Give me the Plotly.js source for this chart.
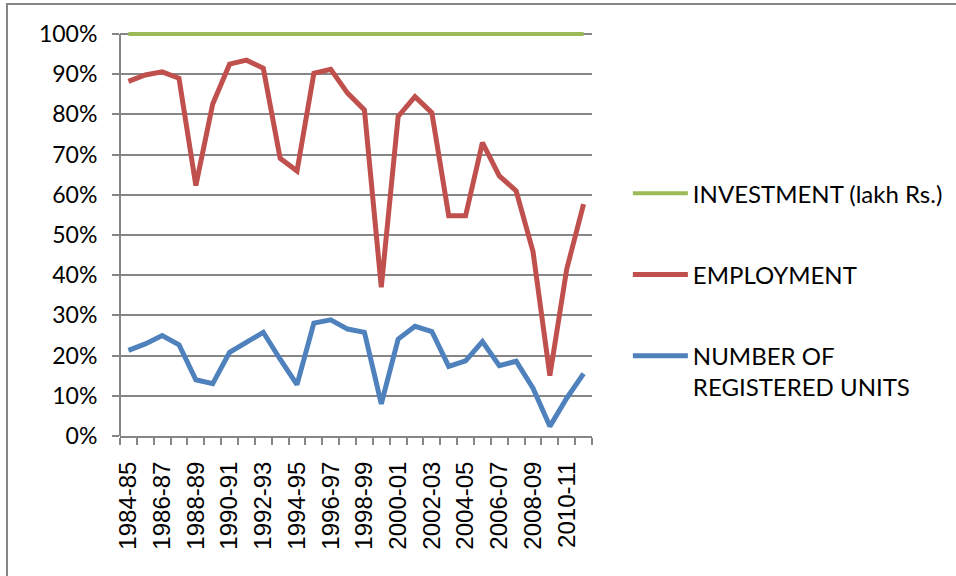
<!DOCTYPE html>
<html>
<head>
<meta charset="utf-8">
<script src="https://cdn.plot.ly/plotly-3.0.1.min.js"></script>
<style>
html,body{margin:0;padding:0;background:#fff;}
#chart{width:956px;height:576px;}
</style>
</head>
<body>
<div id="chart"></div>
<script>
const years = ["1984-85","1985-86","1986-87","1987-88","1988-89","1989-90","1990-91","1991-92",
  "1992-93","1993-94","1994-95","1995-96","1996-97","1997-98","1998-99","1999-00","2000-01",
  "2001-02","2002-03","2003-04","2004-05","2005-06","2006-07","2007-08","2008-09","2009-10",
  "2010-11","2011-12"];
const investment = [1,1,1,1,1,1,1,1,1,1,1,1,1,1,1,1,1,1,1,1,1,1,1,1,1,1,1,1];
const employment = [0.882,0.898,0.906,0.890,0.623,0.826,0.925,0.935,0.915,0.691,0.659,0.902,
  0.912,0.853,0.811,0.370,0.795,0.844,0.804,0.548,0.548,0.730,0.647,0.610,0.459,0.150,0.415,0.577];
const units = [0.213,0.229,0.250,0.227,0.140,0.130,0.208,0.234,0.258,0.191,0.128,0.281,0.289,
  0.266,0.258,0.080,0.241,0.273,0.260,0.173,0.187,0.235,0.175,0.186,0.119,0.024,0.094,0.155];
const yTicks = [0,0.1,0.2,0.3,0.4,0.5,0.6,0.7,0.8,0.9,1.0];
const yTickText = ["0%","10%","20%","30%","40%","50%","60%","70%","80%","90%","100%"];
const xTickText = years.map((y,i)=> i%2===0 ? y : "");

const traces = [
  {x: years, y: investment, name: "INVESTMENT (lakh Rs.)", type: "scatter", mode: "lines",
   line: {color: "#9BBB59", width: 4}, legendgroup: "a", cliponaxis: false},
  {x: years, y: employment, name: "EMPLOYMENT", type: "scatter", mode: "lines",
   line: {color: "#C0504D", width: 5}, legendgroup: "b", cliponaxis: false},
  {x: years, y: units, name: "NUMBER OF<br>REGISTERED UNITS", type: "scatter", mode: "lines",
   line: {color: "#4F81BD", width: 5}, legendgroup: "c", cliponaxis: false}
];

const layout = {
  width: 956, height: 576,
  margin: {l: 120, r: 364, t: 28, b: 140, autoexpand: false},
  paper_bgcolor: "#fff", plot_bgcolor: "#fff",
  showlegend: true,
  legend: {x: 1.076, xanchor: "left", y: 0.649, yanchor: "top", traceorder: "grouped",
    tracegroupgap: 47, valign: "top", itemwidth: 55,
    font: {family: "Lato, sans-serif", size: 24, color: "#000"}},
  xaxis: {type: "category", tickmode: "array", tickvals: years, ticktext: xTickText,
    tickson: "boundaries", ticks: "outside", ticklen: 7, tickcolor: "#868686", tickwidth: 2,
    showline: true, linecolor: "#868686", linewidth: 2, showgrid: false,
    tickangle: -90, ticklabelstandoff: 14,
    tickfont: {family: "Liberation Sans, Arial, sans-serif", size: 24, color: "#000"},
    range: [-0.5, 27.5], fixedrange: true},
  yaxis: {range: [0, 1.015], tickmode: "array", tickvals: yTicks, ticktext: yTickText,
    ticks: "outside", ticklen: 7, tickcolor: "#868686", tickwidth: 2,
    showline: false, ticklabelstandoff: 10,
    showgrid: true, gridcolor: "#868686", gridwidth: 2, zeroline: false,
    tickfont: {family: "Lato, sans-serif", size: 23, color: "#000"}, fixedrange: true},
  shapes: [
    {type: "rect", xref: "paper", yref: "paper", x0: -0.2394, x1: 1.8, y0: -0.4, y1: 1.059,
     line: {color: "#868686", width: 2}, fillcolor: "rgba(0,0,0,0)", layer: "below"},
    {type: "line", xref: "paper", yref: "y", x0: 0, x1: 0, y0: 0, y1: 1,
     line: {color: "#868686", width: 2}, layer: "above"}
  ]
};

Plotly.newPlot("chart", traces, layout, {displayModeBar: false, staticPlot: true});
</script>
</body>
</html>
